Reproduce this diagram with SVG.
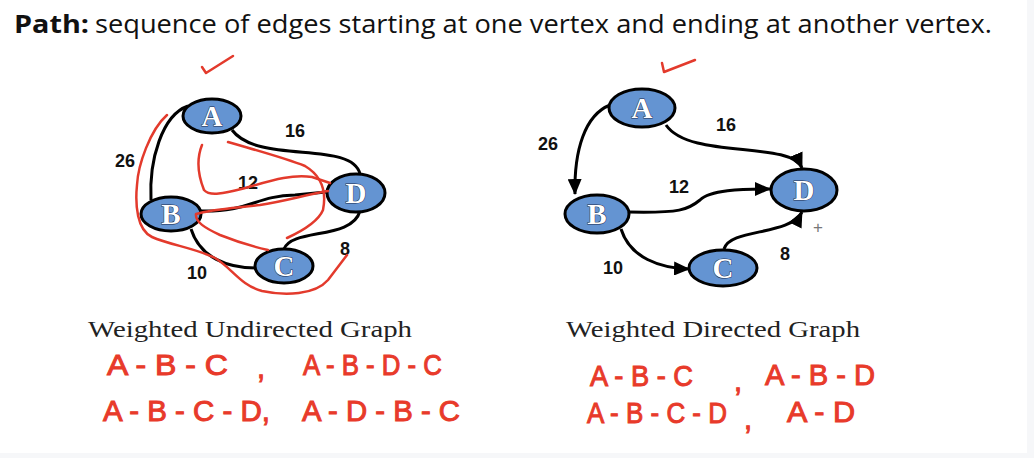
<svg xmlns="http://www.w3.org/2000/svg" width="1034" height="458" viewBox="0 0 1034 458">
<defs>
<style>
.edge{fill:none;stroke:#000;stroke-width:3;}
.node{fill:#6494d2;stroke:#000;stroke-width:3;}
.nl{font-family:"Liberation Serif",serif;font-weight:bold;font-size:29px;fill:#fff;stroke:#1b2c4d;stroke-width:1;paint-order:stroke;text-anchor:middle;}
.w{font-family:"Liberation Sans",Arial,sans-serif;font-weight:bold;font-size:18px;fill:#111;}
.cap{font-family:"Liberation Serif",serif;font-size:24px;fill:#222;}
.red{fill:none;stroke:#e33a2c;stroke-width:2.5;stroke-linecap:round;stroke-linejoin:round;}
.hw{font-family:"Liberation Sans",Arial,sans-serif;font-size:29px;fill:#e83a2a;stroke:#e83a2a;stroke-width:1;}
</style>
<marker id="arr" markerUnits="userSpaceOnUse" markerWidth="16" markerHeight="14" refX="15" refY="7" orient="auto">
<path d="M0,0 L16,7 L0,14 Z" fill="#000"/>
</marker>
</defs>
<rect x="0" y="0" width="1034" height="458" fill="#f6f7f9"/>
<rect x="0" y="0" width="1027" height="453" fill="#fff"/>

<text x="14" y="33" font-family="Open Sans,Liberation Sans,sans-serif" font-size="25" font-weight="bold" fill="#111" textLength="75" lengthAdjust="spacingAndGlyphs">Path:</text>
<text x="95" y="33" font-family="Open Sans,Liberation Sans,sans-serif" font-size="25" fill="#111" textLength="897" lengthAdjust="spacingAndGlyphs">sequence of edges starting at one vertex and ending at another vertex.</text>

<g id="connectors">
<!-- undirected -->
<path class="edge" d="M188,106 C162,115 149,160 151,200"/>
<path class="edge" d="M232,130 C258,165 352,140 360,174"/>
<path class="edge" d="M201,211 C250,212 255,196 295,195 L326,192"/>
<path class="edge" d="M191,229 C200,258 228,268 256,268"/>
<path class="edge" d="M284,249 C292,228 352,240 360,211"/>
<!-- directed -->
<path class="edge" marker-end="url(#arr)" d="M610,105 C585,115 574,150 575,194"/>
<path class="edge" marker-end="url(#arr)" d="M666,125 C690,160 790,140 802,168"/>
<path class="edge" marker-end="url(#arr)" d="M629,212 C680,213 688,210 700,200 C710,190 740,189 770,189"/>
<path class="edge" marker-end="url(#arr)" d="M621,229 C630,258 660,268 689,269"/>
<path class="edge" marker-end="url(#arr)" d="M724,249 C730,228 790,236 802,212"/>
</g>

<g id="undirected-graph">
<g id="uA"><ellipse class="node" cx="212" cy="116" rx="29" ry="17"/><text class="nl" x="212" y="126">A</text></g>
<g id="uB"><ellipse class="node" cx="171" cy="214" rx="30" ry="17"/><text class="nl" x="171" y="224">B</text></g>
<g id="uC"><ellipse class="node" cx="284" cy="266" rx="29" ry="17"/><text class="nl" x="284" y="276">C</text></g>
<g id="uD"><ellipse class="node" cx="356" cy="193" rx="29" ry="19"/><text class="nl" x="356" y="203">D</text></g>
<text class="w" x="285" y="137">16</text>
<text class="w" x="115" y="167">26</text>
<text class="w" x="238" y="189">12</text>
<text class="w" x="187" y="279">10</text>
<text class="w" x="340" y="255">8</text>
<text class="cap" x="88" y="337" textLength="324" lengthAdjust="spacingAndGlyphs">Weighted Undirected Graph</text>
</g>

<g id="directed-graph">
<g id="dA"><ellipse class="node" cx="642" cy="108" rx="33" ry="19"/><text class="nl" x="642" y="118">A</text></g>
<g id="dB"><ellipse class="node" cx="597" cy="214" rx="32" ry="19"/><text class="nl" x="597" y="224">B</text></g>
<g id="dC"><ellipse class="node" cx="723" cy="268" rx="34" ry="18"/><text class="nl" x="723" y="278">C</text></g>
<g id="dD"><ellipse class="node" cx="804" cy="190" rx="33" ry="21"/><text class="nl" x="804" y="200">D</text></g>
<text class="w" x="716" y="131">16</text>
<text class="w" x="538" y="150">26</text>
<text class="w" x="669" y="193">12</text>
<text class="w" x="603" y="274">10</text>
<text class="w" x="780" y="260">8</text>
<text x="813" y="233" font-family="Liberation Sans,sans-serif" font-size="17" fill="#777">+</text>
<text class="cap" x="566" y="337" textLength="294" lengthAdjust="spacingAndGlyphs">Weighted Directed Graph</text>
</g>

<g id="annotations">
<path class="red" d="M202,67 L206,73 L233,56"/>
<path class="red" d="M662,63 L664,72 L695,60"/>
<path class="red" d="M167,115 C150,130 138,165 137,185 C135,205 137,230 152,237 C170,245 195,248 215,258 C232,268 240,285 262,291 C285,296 315,295 328,280 L347,255"/>
<path class="red" d="M202,145 C196,160 198,175 204,190 C210,197 225,193 245,188 C270,181 290,174 312,177 L330,183"/>
<path class="red" d="M228,142 C255,150 285,158 305,166 C320,175 327,190 323,210 C318,222 300,232 287,238"/>
<path class="red" d="M328,191 C305,195 285,201 260,205 C235,208 212,209 196,214 C195,222 205,228 220,235 C240,243 255,247 268,250"/>
</g>

<g id="handwriting">
<text class="hw" x="107" y="375" textLength="121" lengthAdjust="spacingAndGlyphs">A - B - C</text>
<text class="hw" x="257" y="378">,</text>
<text class="hw" x="303" y="375" textLength="139" lengthAdjust="spacingAndGlyphs">A - B - D - C</text>
<text class="hw" x="103" y="421" textLength="167" lengthAdjust="spacingAndGlyphs">A - B - C - D,</text>
<text class="hw" x="302" y="421" textLength="158" lengthAdjust="spacingAndGlyphs">A - D - B - C</text>
<text class="hw" x="590" y="386" textLength="103" lengthAdjust="spacingAndGlyphs">A - B - C</text>
<text class="hw" x="734" y="391">,</text>
<text class="hw" x="765" y="385" textLength="110" lengthAdjust="spacingAndGlyphs">A - B - D</text>
<text class="hw" x="587" y="423" textLength="140" lengthAdjust="spacingAndGlyphs">A - B - C - D</text>
<text class="hw" x="744" y="429">,</text>
<text class="hw" x="787" y="422" textLength="68" lengthAdjust="spacingAndGlyphs">A - D</text>
</g>
</svg>
